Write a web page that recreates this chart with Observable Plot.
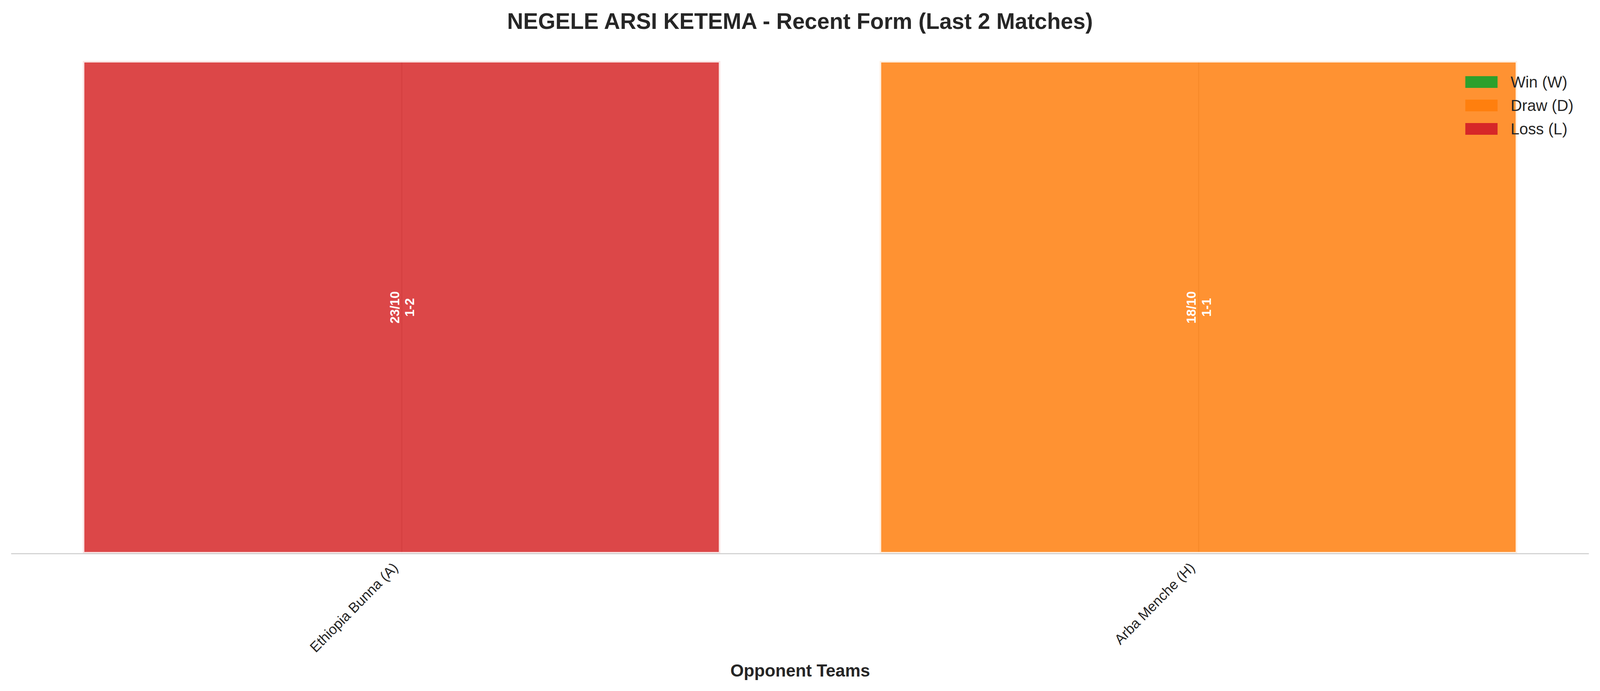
<!DOCTYPE html>
<html>
<head>
<meta charset="utf-8">
<script src="https://cdn.jsdelivr.net/npm/d3@7"></script>
<script src="https://cdn.jsdelivr.net/npm/@observablehq/plot@0.6"></script>
<style>
  html, body { margin: 0; padding: 0; background: white; overflow: hidden; }
  body { width: 4170px; height: 1769px; position: relative; font-family: "Liberation Sans", Arial, sans-serif; transform-origin: 0 0; }
  #title { box-sizing: border-box; height: 130px; padding-top: 20px; text-align: center; font-size: 58px; font-weight: bold; color: #262626; line-height: normal; }
  #legend { position: absolute; left: 3819px; top: 180px; }
  .lg-row { display: flex; align-items: center; height: 60px; }
  .lg-sw { width: 84px; height: 30px; margin-right: 34px; }
  .lg-tx { font-size: 41px; color: #262626; line-height: 60px; white-space: nowrap; }
</style>
</head>
<body>
<div id="title">NEGELE ARSI KETEMA - Recent Form (Last 2 Matches)</div>
<div id="chart"></div>
<div id="legend"></div>
<script>
const teams = ["Ethiopia Bunna (A)", "Arba Menche (H)"];
const results = ["L", "D"];
const dates = ["23/10", "18/10"];
const scores = ["1-2", "1-1"];
const heights = [1, 1];
const resultCodes = ["W", "D", "L"];
const resultColors = ["#2ca02c", "#ff7f0e", "#d62728"];
const legendLabels = ["Win (W)", "Draw (D)", "Loss (L)"];
const xLabel = "Opponent Teams";

// fit the 4170-wide design into the actual viewport width
const sx = Math.min(1, window.innerWidth / 4170);
document.body.style.transform = `scale(${sx}, 1)`;

const rows = teams.map((t, i) => ({
  i, team: t, result: results[i], label: dates[i] + "\n" + scores[i], h: heights[i]
}));

const chart = Plot.plot({
  width: 4170,
  height: 1639,
  marginTop: 26,
  marginBottom: 352,
  marginLeft: 29,
  marginRight: 29,
  x: {domain: [-0.49, 1.49], axis: null},
  y: {domain: [0, 1], axis: null},
  color: {domain: resultCodes, range: resultColors},
  style: {background: "white", fontFamily: "Liberation Sans, Arial, sans-serif", overflow: "visible"},
  marks: [
    Plot.ruleX(rows, {x: "i", stroke: "#cccccc", strokeWidth: 3}),
    Plot.rectY(rows, {
      x1: d => d.i - 0.4, x2: d => d.i + 0.4, y1: 0, y2: "h",
      fill: "result", fillOpacity: 0.85,
      stroke: "white", strokeOpacity: 0.85, strokeWidth: 8
    }),
    Plot.text(rows, {
      x: "i", y: d => d.h / 2, text: "label", rotate: -90,
      fill: "white", fontWeight: "bold", fontSize: 33, lineHeight: 1.2,
      textAnchor: "middle", lineAnchor: "middle"
    }),
    Plot.ruleY([0], {stroke: "#cccccc", strokeWidth: 2.5}),
    Plot.text(rows, {
      x: "i", y: 0, text: "team", rotate: -45,
      textAnchor: "end", lineAnchor: "middle",
      fontSize: 36.5, fill: "#262626", dx: -16, dy: 30
    }),
    Plot.text([xLabel], {
      text: d => d, frameAnchor: "bottom", dy: 314, lineAnchor: "bottom",
      fontSize: 45, fontWeight: "bold", fill: "#262626"
    })
  ]
});
document.getElementById("chart").appendChild(chart);

const legend = document.getElementById("legend");
legendLabels.forEach((lab, k) => {
  const row = document.createElement("div");
  row.className = "lg-row";
  const sw = document.createElement("div");
  sw.className = "lg-sw";
  sw.style.background = resultColors[k];
  const tx = document.createElement("span");
  tx.className = "lg-tx";
  tx.textContent = lab;
  row.appendChild(sw);
  row.appendChild(tx);
  legend.appendChild(row);
});
</script>
</body>
</html>
